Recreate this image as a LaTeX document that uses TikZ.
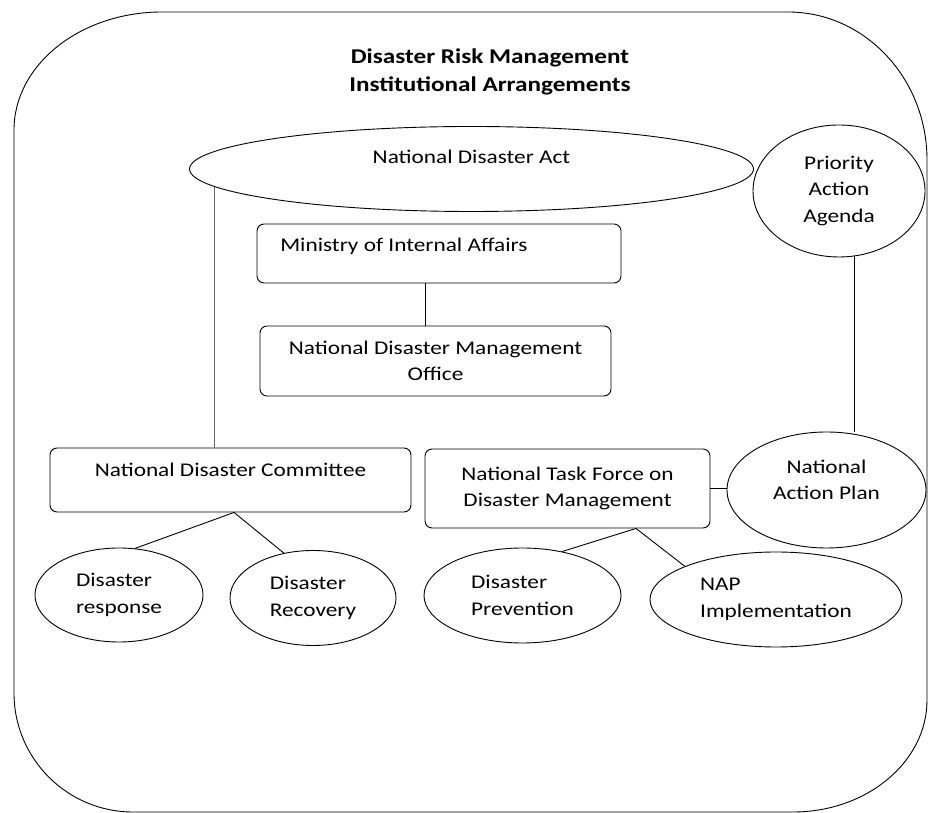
\documentclass[tikz,border=0pt]{standalone}
\usepackage{fontspec}
\setmainfont{Carlito}[FakeStretch=1.2]
\usetikzlibrary{shapes.geometric}

\begin{document}
\begin{tikzpicture}[
    x=1pt, y=1pt,
    line width=0.9pt,
    font=\fontsize{19.4}{26.5}\selectfont,
    box/.style={draw, rounded corners=7pt, inner sep=0pt, align=center},
    oval/.style={draw, ellipse, inner sep=0pt, align=left},
  ]
  \useasboundingbox (0,0) rectangle (928,813);
  \draw (14,683) arc[start angle=180, end angle=90, x radius=148, y radius=118]
    -- (788,801) arc[start angle=90, end angle=0, x radius=139, y radius=148]
    -- (927,113) arc[start angle=0, end angle=-90, x radius=134, y radius=112]
    -- (133,1) arc[start angle=270, end angle=180, x radius=119, y radius=119]
    -- cycle;

  \node[font=\fontsize{21}{28}\selectfont\bfseries, align=center] (title) at (490,741)
    {Disaster Risk Management\\Institutional Arrangements};

  \node[oval, minimum width=564pt, minimum height=85pt,
    label={[yshift=12pt]center:National Disaster Act}] (act) at (471.5,644) {};
  \node[oval, align=center, minimum width=172pt, minimum height=132pt] (agenda) at (839,622)
    {Priority\\Action\\Agenda};
  \node[box, minimum width=364pt, minimum height=59pt,
    label={[anchor=west, xshift=20pt, yshift=-23pt]north west:Ministry of Internal Affairs}]
    (ministry) at (439,559.5) {};
  \node[box, minimum width=351pt, minimum height=70pt] (office) at (435.5,452)
    {National Disaster Management\\Office};
  \node[box, minimum width=361pt, minimum height=64pt,
    label={[yshift=10pt]center:National Disaster Committee}] (committee) at (230.5,333) {};
  \node[box, minimum width=285pt, minimum height=79pt] (taskforce) at (567.5,324.5)
    {National Task Force on\\Disaster Management};
  \node[oval, minimum width=199pt, minimum height=116pt,
    label={[yshift=10pt, align=center]center:National\\Action Plan}] (plan) at (826.5,323) {};

  \node[oval, minimum width=168pt, minimum height=94pt] (response) at (119,218)
    {Disaster\\response};
  \node[oval, minimum width=166pt, minimum height=95pt] (recovery) at (313,215)
    {Disaster\\Recovery};
  \node[oval, minimum width=197pt, minimum height=95pt] (prevention) at (522.5,217.5)
    {Disaster\\Prevention};
  \node[oval, minimum width=252pt, minimum height=95pt] (implementation) at (776,213.5)
    {NAP\\Implementation};

  \draw[black!60] (act.184.3) -- (act.184.3 |- committee.north);
  \draw ([xshift=-14pt]ministry.south) -- ([xshift=-14pt]ministry.south |- office.north);
  \draw (agenda.283) -- (agenda.283 |- plan.north);
  \draw (taskforce.east) -- (taskforce.east -| plan.west);
  \draw ([xshift=3.5pt]committee.south) -- (response.71);
  \draw ([xshift=3.5pt]committee.south) -- (recovery.123);
  \draw ([xshift=68.5pt]taskforce.south) -- (prevention.48);
  \draw ([xshift=68.5pt]taskforce.south) -- (implementation.160);
\end{tikzpicture}
\end{document}
